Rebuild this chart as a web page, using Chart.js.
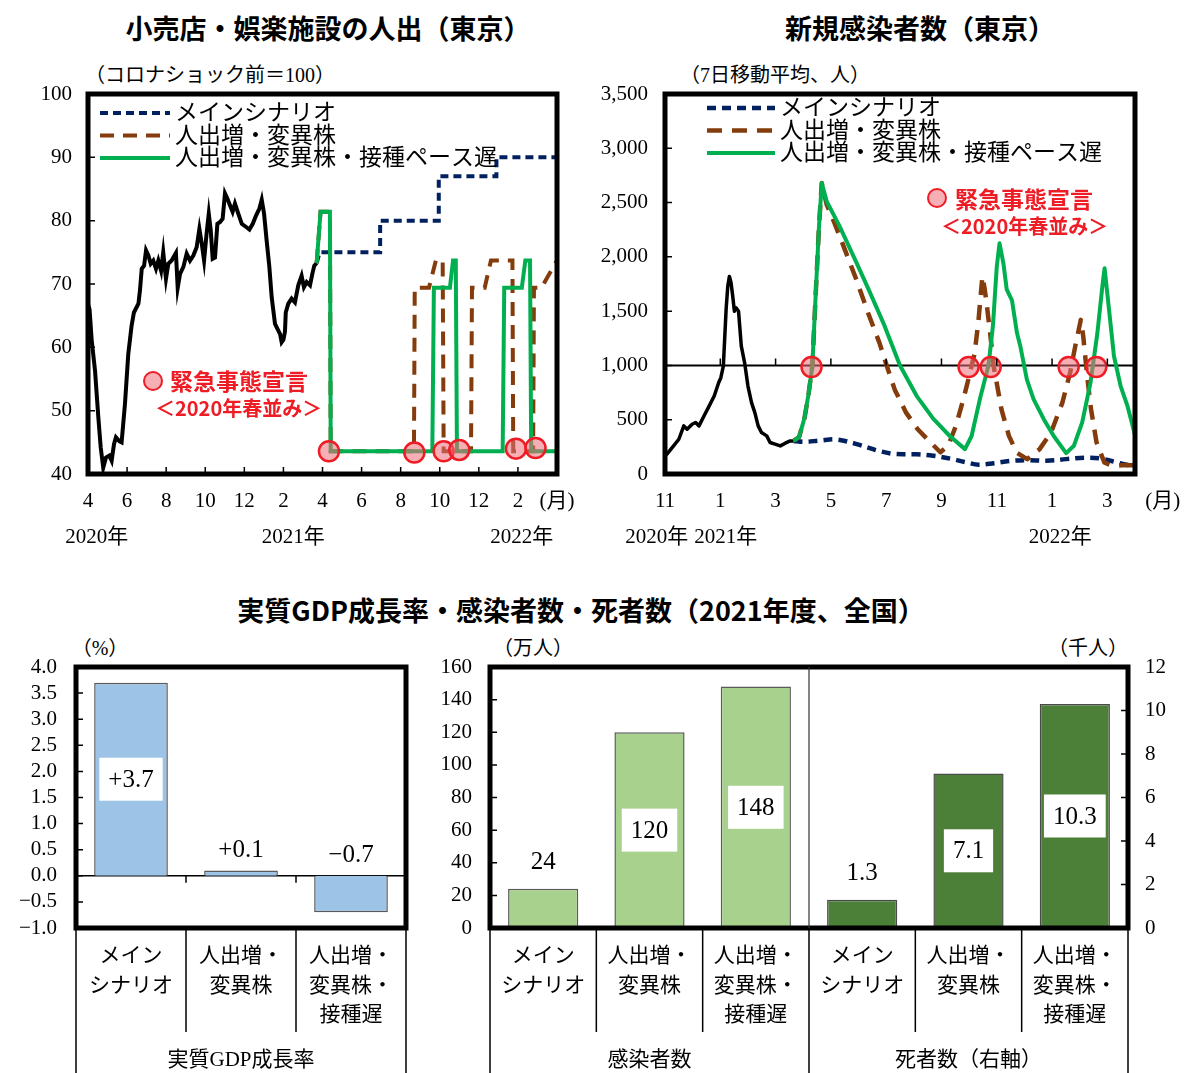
<!DOCTYPE html>
<html lang="ja">
<head>
<meta charset="utf-8">
<title>人出・新規感染者数・実質GDP成長率の見通し</title>
<script src="https://cdn.jsdelivr.net/npm/chart.js@4.4.1/dist/chart.umd.min.js"></script>
<style>
  html, body { margin: 0; padding: 0; background: #fff; }
  body { position: relative; width: 1186px; height: 1073px; overflow: hidden; color: #000;
         font-family: 'Liberation Serif', 'Noto Sans CJK JP', serif; }
  canvas { position: absolute; }
  .txt { position: absolute; white-space: nowrap; line-height: 1; }
  .title { font-family: 'Noto Sans CJK JP', sans-serif; font-size: 27px; font-weight: 700; transform: translateX(-50%); }
  .unit { font-size: 20px; }
  .centered { transform: translateX(-50%); }
  .note { font-family: 'Noto Sans CJK JP', sans-serif; color: #ee1c25; font-weight: 700; }
  .mark { position: absolute; box-sizing: border-box; width: 20px; height: 20px; border-radius: 50%;
          border: 2.5px solid #ee1c25; background: #f5afb5; }
</style>
</head>
<body>

<div class="txt title" style="left:328px;top:14px">小売店・娯楽施設の人出（東京）</div>
<div class="txt title" style="left:920px;top:14px">新規感染者数（東京）</div>
<div class="txt title" style="left:581px;top:596px">実質GDP成長率・感染者数・死者数（2021年度、全国）</div>

<div class="txt unit" style="left:85px;top:65px">（コロナショック前＝100）</div>
<div class="txt unit" style="left:680px;top:65px">（7日移動平均、人）</div>
<div class="txt unit centered" style="left:100px;top:638px">（%）</div>
<div class="txt unit centered" style="left:533px;top:638px">（万人）</div>
<div class="txt unit centered" style="left:1088px;top:638px">（千人）</div>

<canvas id="mobility" width="590" height="513" style="left:0;top:60px"></canvas>
<canvas id="cases" width="596" height="513" style="left:590px;top:60px"></canvas>
<canvas id="gdp" width="420" height="443" style="left:0;top:630px"></canvas>
<canvas id="toll" width="766" height="443" style="left:420px;top:630px"></canvas>

<div class="mark" style="left:143px;top:371px"></div>
<div class="txt note" style="left:170px;top:369px;font-size:23px">緊急事態宣言</div>
<div class="txt note" style="left:155px;top:398px;font-size:20px">＜2020年春並み＞</div>

<div class="mark" style="left:927px;top:188px"></div>
<div class="txt note" style="left:955px;top:187px;font-size:23px">緊急事態宣言</div>
<div class="txt note" style="left:941px;top:216px;font-size:20px">＜2020年春並み＞</div>

<script>
// ---------- 小売店・娯楽施設の人出（東京）: x = months since April 2020 ----------
const mobTickPos   = [0, 2, 4, 6, 8, 10, 12, 14, 16, 18, 20, 22, 24];
const mobTickMonth = ['4', '6', '8', '10', '12', '2', '4', '6', '8', '10', '12', '2', '(月)'];
const mobYears     = ['2020年', '2021年', '2022年'];
const mobYearAt    = [0.45, 10.5, 22.2];

const mobActualMonth = [0.00, 0.08, 0.19, 0.36, 0.53, 0.65, 0.78, 0.92, 1.09, 1.21, 1.33, 1.43, 1.60, 1.72, 1.89, 2.06,
  2.23, 2.35, 2.58, 2.66, 2.75, 2.87, 2.97, 3.09, 3.21, 3.34, 3.48, 3.60, 3.74, 3.85, 3.99, 4.11, 4.28, 4.50, 4.59,
  4.71, 4.88, 5.05, 5.22, 5.39, 5.56, 5.70, 5.82, 5.94, 6.07, 6.18, 6.28, 6.38, 6.50, 6.62, 6.76, 6.89, 7.01, 7.13,
  7.27, 7.40, 7.52, 7.69, 7.87, 8.09, 8.26, 8.43, 8.60, 8.77, 8.89, 9.01, 9.14, 9.28, 9.40, 9.57, 9.65, 9.83, 9.91,
  10.00, 10.08, 10.12, 10.25, 10.42, 10.59, 10.76, 10.93, 11.05, 11.19, 11.36, 11.48, 11.58, 11.70];
const mobActualValue = [66.8, 66.0, 61.1, 56.3, 48.9, 44.2, 41.0, 42.6, 42.9, 42.1, 44.7, 45.8, 45.2, 45.0, 51.0, 58.9,
  63.4, 65.5, 66.9, 69.0, 72.4, 72.9, 75.3, 74.5, 73.2, 73.7, 72.4, 73.7, 72.1, 75.0, 70.8, 73.2, 73.7, 74.9, 69.4,
  71.6, 72.7, 74.8, 73.7, 74.5, 75.8, 78.7, 76.4, 73.7, 78.0, 81.1, 78.5, 74.0, 74.2, 79.5, 79.8, 80.3, 84.3, 83.5,
  82.4, 81.4, 82.7, 81.1, 79.5, 79.0, 78.6, 79.5, 80.8, 81.9, 83.3, 81.1, 76.9, 72.7, 67.9, 63.7, 63.2, 62.1, 60.8,
  61.2, 62.5, 65.5, 66.9, 67.7, 67.1, 69.8, 71.3, 69.5, 70.3, 69.8, 71.6, 72.9, 73.3];

const mobMainMonth = [11.70, 11.85, 14.95, 14.95, 17.95, 17.95, 20.90, 20.90, 24.00];
const mobMainValue = [73.3, 75.0, 75.0, 80.0, 80.0, 87.0, 87.0, 90.0, 90.0];

const mobSurgeMonth = [11.70, 11.90, 12.38, 12.42, 16.68, 16.72, 17.45, 17.80, 18.15, 18.20, 19.60, 19.65, 20.30,
  20.62, 21.72, 21.76, 22.78, 22.82, 23.20, 24.00];
const mobSurgeValue = [73.3, 81.4, 81.4, 43.6, 43.6, 69.4, 69.4, 73.7, 73.7, 43.6, 43.6, 69.4, 69.4,
  73.7, 73.7, 43.6, 43.6, 69.4, 69.4, 73.7];

const mobSlowMonth = [11.70, 11.90, 12.38, 12.42, 17.62, 17.70, 18.52, 18.68, 18.82, 18.88, 21.22, 21.30, 22.20,
  22.38, 22.62, 22.68, 24.00];
const mobSlowValue = [73.3, 81.4, 81.4, 43.6, 43.6, 69.4, 69.4, 73.7, 73.7, 43.6, 43.6, 69.4, 69.4,
  73.7, 73.7, 43.6, 43.6];

const mobDeclMonth = [12.33, 16.70, 18.20, 19.00, 21.90, 22.90];
const mobDeclValue = [43.6, 43.4, 43.6, 43.8, 44.0, 44.1];

// ---------- 新規感染者数（東京）: x = months since November 2020 ----------
const caseTickPos   = [0, 2, 4, 6, 8, 10, 12, 14, 16, 18];
const caseTickMonth = ['11', '1', '3', '5', '7', '9', '11', '1', '3', '(月)'];
const caseYears     = ['2020年', '2021年', '2022年'];
const caseYearAt    = [-0.3, 2.2, 14.3];

const caseActualMonth = [0.00, 0.07, 0.31, 0.50, 0.68, 0.80, 0.98, 1.11, 1.23, 1.41, 1.60, 1.78, 1.94, 2.02, 2.11,
  2.21, 2.27, 2.33, 2.39, 2.45, 2.51, 2.57, 2.66, 2.76, 2.88, 3.00, 3.13, 3.25, 3.37, 3.49, 3.68, 3.80, 3.98, 4.17,
  4.35, 4.53, 4.65];
const caseActualValue = [165, 183, 259, 320, 443, 412, 458, 474, 443, 535, 627, 718, 841, 887, 994,
  1514, 1728, 1820, 1759, 1637, 1499, 1530, 1499, 1178, 1024, 810, 657, 565, 443, 382, 351, 290, 275, 259,
  284, 305, 305];

const caseMainMonth = [4.65, 5.02, 5.60, 6.20, 6.90, 7.70, 8.30, 9.10, 9.70, 10.40, 10.90, 11.35, 11.90, 12.45,
  13.10, 13.80, 14.50, 15.20, 15.75, 16.30, 16.70, 17.00];
const caseMainValue = [305, 296, 308, 318, 278, 215, 185, 182, 168, 137, 107, 85, 100, 120,
  128, 122, 137, 150, 143, 110, 85, 72];

const caseSurgeMonth = [4.65, 4.85, 5.05, 5.20, 5.33, 5.45, 5.57, 5.67, 5.85, 6.10, 6.38, 6.93, 7.35, 7.76, 8.03,
  8.31, 8.72, 9.14, 9.55, 9.96, 10.24, 10.52, 10.79, 11.00, 11.20, 11.34, 11.48, 11.55, 11.62, 11.76, 11.89,
  12.17, 12.44, 12.72, 13.10, 13.55, 13.96, 14.37, 14.65, 14.86, 15.04, 15.13, 15.27, 15.41, 15.61, 15.89,
  16.17, 16.60, 17.00];
const caseSurgeValue = [305, 340, 520, 750, 1000, 1650, 2280, 2680, 2480, 2330, 2150, 1785, 1480, 1205, 990,
  777, 565, 412, 305, 200, 259, 442, 686, 899, 1113, 1418, 1820, 1723, 1600, 1296, 991,
  595, 351, 198, 137, 229, 381, 655, 930, 1204, 1420, 1265, 899, 595, 290, 107,
  75, 82, 80];

const caseSlowMonth = [4.65, 4.85, 5.05, 5.20, 5.33, 5.45, 5.57, 5.67, 5.85, 6.30, 6.90, 7.40, 7.90, 8.50, 9.10,
  9.70, 10.30, 10.85, 11.09, 11.39, 11.70, 11.86, 12.00, 12.10, 12.24, 12.36, 12.55, 12.73, 12.85, 13.09, 13.33,
  13.70, 14.06, 14.51, 14.79, 15.09, 15.39, 15.64, 15.82, 15.90, 16.06, 16.24, 16.48, 16.73, 17.00];
const caseSlowValue = [305, 340, 520, 750, 1000, 1650, 2280, 2680, 2510, 2290, 1960, 1680, 1390, 1000, 720,
  510, 350, 229, 350, 690, 1000, 1360, 1910, 2125, 1940, 1700, 1600, 1300, 1180, 870, 690,
  505, 350, 192, 260, 475, 840, 1300, 1730, 1895, 1515, 1085, 810, 625, 360];

const caseDeclMonth = [5.30, 10.98, 11.78, 14.60, 15.60];
const caseDeclValue = [985, 985, 985, 985, 985];

// ---------- 実質GDP成長率・感染者数・死者数（2021年度、全国） ----------
const scenarioNames = [['メイン', 'シナリオ'], ['人出増・', '変異株'], ['人出増・', '変異株・', '接種遅']];
const gdpGroups = ['実質GDP成長率'];
const gdpGrowth = [3.7, 0.1, -0.7];          // %
const tollGroups = ['感染者数', '死者数（右軸）'];
const infections = [24, 120, 148];           // 万人
const deaths = [1.3, 7.1, 10.3];             // 千人

// ---------- shared helpers ----------
const SERIF = "'Liberation Serif', 'Noto Sans CJK JP', serif";
const NAVY = '#002060', BROWN = '#843C0C', GREEN = '#00B050', RED = '#EE1C25', PINK = 'rgba(236,110,120,0.55)';

Chart.defaults.font.family = SERIF;
Chart.defaults.font.size = 21;
Chart.defaults.color = '#000';

const pts = (xs, ys) => xs.map((x, i) => ({ x, y: ys[i] }));

// pins an axis to a fixed thickness so every plot box lands where intended
const fitBox = (w, h) => (s) => {
  if (w != null) s.width = w;
  if (h != null) s.height = h;
  s.paddingLeft = s.paddingRight = s.paddingTop = s.paddingBottom = 0;
};
const noGrid = { display: false, drawTicks: false };
const noBorder = { display: false };

// thick plot frame, inward tick marks and an optional reference line
function frame(cfg) {
  return {
    id: 'frame',
    beforeDatasetsDraw(chart) {
      if (!cfg.refLine) return;
      const { ctx, chartArea: a } = chart;
      const y = chart.scales[cfg.refLine.scale].getPixelForValue(cfg.refLine.value);
      ctx.save();
      ctx.strokeStyle = '#000';
      ctx.lineWidth = cfg.refLine.width;
      ctx.beginPath(); ctx.moveTo(a.left, y); ctx.lineTo(a.right, y); ctx.stroke();
      ctx.restore();
    },
    afterDatasetsDraw(chart) {
      const { ctx, chartArea: a, scales } = chart;
      ctx.save();
      ctx.strokeStyle = '#000';
      ctx.lineWidth = 1.5;
      ctx.beginPath();
      (cfg.marks || []).forEach(m => {
        const s = scales[m.scale];
        m.values.forEach(v => {
          const p = s.getPixelForValue(v);
          if (m.side === 'left') { ctx.moveTo(a.left, p); ctx.lineTo(a.left + m.len, p); }
          else if (m.side === 'right') { ctx.moveTo(a.right, p); ctx.lineTo(a.right - m.len, p); }
          else {
            const y0 = m.atScale ? scales[m.atScale].getPixelForValue(m.atValue) : a.bottom;
            ctx.moveTo(p, y0); ctx.lineTo(p, y0 + m.len);
          }
        });
      });
      ctx.stroke();
      ctx.lineWidth = cfg.width;
      ctx.strokeRect(a.left, a.top, a.right - a.left, a.bottom - a.top);
      ctx.restore();
    }
  };
}

// year captions on a second row beneath the month ticks
function yearRow(cfg) {
  return {
    id: 'yearRow',
    afterDraw(chart) {
      const { ctx, chartArea: a } = chart;
      const x = chart.scales.x;
      ctx.save();
      ctx.font = '21px ' + SERIF;
      ctx.fillStyle = '#000';
      ctx.textAlign = 'center';
      ctx.textBaseline = 'middle';
      cfg.labels.forEach((t, i) => ctx.fillText(t, x.getPixelForValue(cfg.at[i]), a.bottom + cfg.offset));
      ctx.restore();
    }
  };
}

// series key drawn inside the plot box
function lineLegend(cfg) {
  return {
    id: 'lineLegend',
    afterDraw(chart) {
      const ctx = chart.ctx;
      ctx.save();
      ctx.font = cfg.font;
      ctx.textBaseline = 'middle';
      let row = 0;
      chart.data.datasets.forEach(ds => {
        if (!ds.inLegend) return;
        const y = cfg.y0 + row * cfg.gap;
        ctx.beginPath();
        ctx.setLineDash(ds.borderDash || []);
        ctx.strokeStyle = ds.borderColor;
        ctx.lineWidth = ds.borderWidth;
        ctx.moveTo(cfg.x1, y); ctx.lineTo(cfg.x2, y); ctx.stroke();
        ctx.setLineDash([]);
        ctx.fillStyle = '#000';
        ctx.fillText(ds.label, cfg.x2 + cfg.textGap, y + 1);
        row++;
      });
      ctx.restore();
    }
  };
}

// value captions: boxed inside tall bars, above short ones
function barValues(cfg) {
  return {
    id: 'barValues',
    afterDatasetsDraw(chart) {
      const ctx = chart.ctx;
      ctx.save();
      ctx.font = cfg.size + 'px ' + SERIF;
      ctx.textAlign = 'center';
      ctx.textBaseline = 'middle';
      chart.data.datasets.forEach((ds, di) => {
        chart.getDatasetMeta(di).data.forEach((el, i) => {
          const v = ds.data[i];
          if (v == null) return;
          let text = Math.abs(v).toFixed(ds.labelDigits);
          if (v < 0) text = '−' + text; else if (ds.labelSigned) text = '+' + text;
          const top = Math.min(el.y, el.base), bottom = Math.max(el.y, el.base);
          if (bottom - top > cfg.boxH + 20) {
            const cy = (top + bottom) / 2;
            const w = ctx.measureText(text).width + 2 * cfg.padX;
            ctx.fillStyle = '#fff';
            ctx.fillRect(el.x - w / 2, cy - cfg.boxH / 2, w, cfg.boxH);
            ctx.fillStyle = '#000';
            ctx.fillText(text, el.x, cy + 1);
          } else {
            ctx.fillStyle = '#000';
            ctx.fillText(text, el.x, top - cfg.gap);
          }
        });
      });
      ctx.restore();
    }
  };
}

// category dividers under the plot box and the group captions
function categoryRules(cfg) {
  return {
    id: 'categoryRules',
    afterDraw(chart) {
      const { ctx, chartArea: a } = chart;
      const x = chart.scales.x;
      const n = chart.data.labels.length;
      const edges = new Set([0, n]);
      let acc = 0;
      cfg.groupSizes.forEach(sz => { acc += sz; edges.add(acc); });
      ctx.save();
      ctx.strokeStyle = '#000';
      ctx.lineWidth = 1.5;
      ctx.beginPath();
      for (let i = 0; i <= n; i++) {
        const px = x.getPixelForValue(i - 0.5);
        ctx.moveTo(px, a.bottom);
        ctx.lineTo(px, edges.has(i) ? chart.height : a.bottom + cfg.innerLen);
      }
      ctx.stroke();
      ctx.lineWidth = 1.2;
      ctx.strokeStyle = '#333';
      ctx.beginPath();
      edges.forEach(i => {
        if (i === 0 || i === n) return;
        const px = x.getPixelForValue(i - 0.5);
        ctx.moveTo(px, a.top); ctx.lineTo(px, a.bottom);
      });
      ctx.stroke();
      ctx.font = '21px ' + SERIF;
      ctx.fillStyle = '#000';
      ctx.textAlign = 'center';
      ctx.textBaseline = 'middle';
      let start = 0;
      cfg.groups.forEach((g, gi) => {
        const end = start + cfg.groupSizes[gi];
        const cx = (x.getPixelForValue(start - 0.5) + x.getPixelForValue(end - 0.5)) / 2;
        ctx.fillText(g, cx, a.bottom + cfg.captionOffset);
        start = end;
      });
      ctx.restore();
    }
  };
}

const baseOptions = {
  responsive: false,
  animation: false,
  devicePixelRatio: 1,
  events: [],
  plugins: { legend: { display: false }, tooltip: { enabled: false } }
};

// ---------- 小売店・娯楽施設の人出 ----------
new Chart(document.getElementById('mobility'), {
  type: 'line',
  data: {
    datasets: [
      { label: '実績', data: pts(mobActualMonth, mobActualValue), borderColor: '#000', borderWidth: 4, order: 4 },
      { label: 'メインシナリオ', data: pts(mobMainMonth, mobMainValue), borderColor: NAVY, borderWidth: 4,
        borderDash: [8, 5], order: 3, inLegend: true },
      { label: '人出増・変異株', data: pts(mobSurgeMonth, mobSurgeValue), borderColor: BROWN, borderWidth: 4,
        borderDash: [14, 9], order: 2, inLegend: true },
      { label: '人出増・変異株・接種ペース遅', data: pts(mobSlowMonth, mobSlowValue), borderColor: GREEN,
        borderWidth: 4, order: 1, inLegend: true },
      { label: '緊急事態宣言', data: pts(mobDeclMonth, mobDeclValue), showLine: false, pointRadius: 10,
        pointBackgroundColor: PINK, pointBorderColor: RED, pointBorderWidth: 2.5, order: 0, clip: false }
    ]
  },
  options: {
    ...baseOptions,
    layout: { padding: { top: 34, right: 33, left: 0, bottom: 0 } },
    elements: { point: { radius: 0 }, line: { tension: 0, borderJoinStyle: 'miter', borderCapStyle: 'butt' } },
    scales: {
      x: {
        type: 'linear', min: 0, max: 24,
        afterBuildTicks: s => { s.ticks = mobTickPos.map(v => ({ value: v })); },
        afterFit: fitBox(null, 99),
        grid: noGrid, border: noBorder,
        ticks: {
          autoSkip: false, maxRotation: 0, padding: 15,
          callback: v => { const i = mobTickPos.indexOf(v); return i < 0 ? '' : mobTickMonth[i]; }
        }
      },
      y: {
        min: 40, max: 100,
        afterFit: fitBox(88, null),
        grid: noGrid, border: noBorder,
        ticks: { stepSize: 10, padding: 16, autoSkip: false }
      }
    }
  },
  plugins: [
    frame({ width: 5, marks: [
      { scale: 'y', side: 'left', len: 7, values: [50, 60, 70, 80, 90] },
      { scale: 'x', side: 'bottom', len: -7, values: [2, 4, 6, 8, 10, 12, 14, 16, 18, 20, 22] }
    ] }),
    yearRow({ labels: mobYears, at: mobYearAt, offset: 63 }),
    lineLegend({ x1: 100, x2: 170, textGap: 5, y0: 53, gap: 22.5, font: '23px ' + SERIF })
  ]
});

// ---------- 新規感染者数 ----------
new Chart(document.getElementById('cases'), {
  type: 'line',
  data: {
    datasets: [
      { label: '実績', data: pts(caseActualMonth, caseActualValue), borderColor: '#000', borderWidth: 3.5, order: 4 },
      { label: 'メインシナリオ', data: pts(caseMainMonth, caseMainValue), borderColor: NAVY, borderWidth: 4.5,
        borderDash: [9, 6], order: 3, inLegend: true, tension: 0.35 },
      { label: '人出増・変異株', data: pts(caseSurgeMonth, caseSurgeValue), borderColor: BROWN, borderWidth: 4.5,
        borderDash: [15, 10], order: 2, inLegend: true },
      { label: '人出増・変異株・接種ペース遅', data: pts(caseSlowMonth, caseSlowValue), borderColor: GREEN,
        borderWidth: 4, order: 1, inLegend: true },
      { label: '緊急事態宣言', data: pts(caseDeclMonth, caseDeclValue), showLine: false, pointRadius: 10,
        pointBackgroundColor: PINK, pointBorderColor: RED, pointBorderWidth: 2.5, order: 0, clip: false }
    ]
  },
  options: {
    ...baseOptions,
    layout: { padding: { top: 34, right: 51, left: 0, bottom: 0 } },
    elements: { point: { radius: 0 }, line: { tension: 0, borderJoinStyle: 'round', borderCapStyle: 'butt' } },
    scales: {
      x: {
        type: 'linear', min: 0, max: 17,
        afterBuildTicks: s => { s.ticks = caseTickPos.map(v => ({ value: v })); },
        afterFit: fitBox(null, 99),
        grid: noGrid, border: noBorder,
        ticks: {
          autoSkip: false, maxRotation: 0, padding: 15,
          callback: v => { const i = caseTickPos.indexOf(v); return i < 0 ? '' : caseTickMonth[i]; }
        }
      },
      y: {
        min: 0, max: 3500,
        afterFit: fitBox(75, null),
        grid: noGrid, border: noBorder,
        ticks: { stepSize: 500, padding: 17, autoSkip: false, callback: v => v.toLocaleString('en-US') }
      }
    }
  },
  plugins: [
    frame({ width: 5, refLine: { scale: 'y', value: 1000, width: 2 }, marks: [
      { scale: 'y', side: 'left', len: 7, values: [500, 1000, 1500, 2000, 2500, 3000] },
      { scale: 'x', side: 'bottom', atScale: 'y', atValue: 1000, len: -7, values: [2, 4, 6, 8, 10, 12, 14, 16] }
    ] }),
    yearRow({ labels: caseYears, at: caseYearAt, offset: 63 }),
    lineLegend({ x1: 117, x2: 185, textGap: 5, y0: 48, gap: 22.5, font: '23px ' + SERIF })
  ]
});

// ---------- 実質GDP成長率 ----------
new Chart(document.getElementById('gdp'), {
  type: 'bar',
  data: {
    labels: scenarioNames,
    datasets: [
      { label: '実質GDP成長率', data: gdpGrowth, backgroundColor: '#9DC3E6', borderColor: '#5a5a5a',
        borderWidth: 1.5, barPercentage: 0.67, categoryPercentage: 1, labelDigits: 1, labelSigned: true }
    ]
  },
  options: {
    ...baseOptions,
    layout: { padding: { top: 37, right: 14, left: 0, bottom: 0 } },
    scales: {
      x: {
        afterFit: fitBox(null, 145),
        grid: noGrid, border: noBorder,
        ticks: { autoSkip: false, maxRotation: 0, padding: 14, font: { size: 21, lineHeight: 29.5 / 21 } }
      },
      y: {
        min: -1, max: 4,
        afterFit: fitBox(76, null),
        grid: noGrid, border: noBorder,
        ticks: { stepSize: 0.5, padding: 19, autoSkip: false,
                 callback: v => (v < 0 ? '−' + (-v).toFixed(1) : v.toFixed(1)) }
      }
    }
  },
  plugins: [
    frame({ width: 5, refLine: { scale: 'y', value: 0, width: 1.5 }, marks: [
      { scale: 'y', side: 'left', len: 7, values: [-0.5, 0, 0.5, 1, 1.5, 2, 2.5, 3, 3.5] },
      { scale: 'x', side: 'bottom', atScale: 'y', atValue: 0, len: 7, values: [0.5, 1.5] }
    ] }),
    barValues({ size: 25, boxH: 43, padX: 9, gap: 20 }),
    categoryRules({ groups: gdpGroups, groupSizes: [3], innerLen: 104, captionOffset: 132 })
  ]
});

// ---------- 感染者数・死者数 ----------
const tollInfections = infections.concat(deaths.map(() => null));
const tollDeaths = infections.map(() => null).concat(deaths);

new Chart(document.getElementById('toll'), {
  type: 'bar',
  data: {
    labels: scenarioNames.concat(scenarioNames),
    datasets: [
      { label: '感染者数', data: tollInfections, yAxisID: 'y', backgroundColor: '#A9D18E', borderColor: '#5a5a5a',
        borderWidth: 1.5, barPercentage: 0.66, categoryPercentage: 1, grouped: false, labelDigits: 0 },
      { label: '死者数', data: tollDeaths, yAxisID: 'y2', backgroundColor: '#4C7F38', borderColor: '#4a4a4a',
        borderWidth: 1.5, barPercentage: 0.66, categoryPercentage: 1, grouped: false, labelDigits: 1 }
    ]
  },
  options: {
    ...baseOptions,
    layout: { padding: { top: 37, right: 0, left: 0, bottom: 0 } },
    scales: {
      x: {
        afterFit: fitBox(null, 145),
        grid: noGrid, border: noBorder,
        ticks: { autoSkip: false, maxRotation: 0, padding: 14, font: { size: 21, lineHeight: 29.5 / 21 } }
      },
      y: {
        position: 'left', min: 0, max: 160,
        afterFit: fitBox(70, null),
        grid: noGrid, border: noBorder,
        ticks: { stepSize: 20, padding: 18, autoSkip: false }
      },
      y2: {
        position: 'right', min: 0, max: 12,
        afterFit: fitBox(58, null),
        grid: noGrid, border: noBorder,
        ticks: { stepSize: 2, padding: 17, autoSkip: false }
      }
    }
  },
  plugins: [
    frame({ width: 5, marks: [
      { scale: 'y', side: 'left', len: 7, values: [20, 40, 60, 80, 100, 120, 140] },
      { scale: 'y2', side: 'right', len: 7, values: [2, 4, 6, 8, 10] }
    ] }),
    barValues({ size: 25, boxH: 43, padX: 9, gap: 26 }),
    categoryRules({ groups: tollGroups, groupSizes: [3, 3], innerLen: 104, captionOffset: 132 })
  ]
});
</script>
</body>
</html>
